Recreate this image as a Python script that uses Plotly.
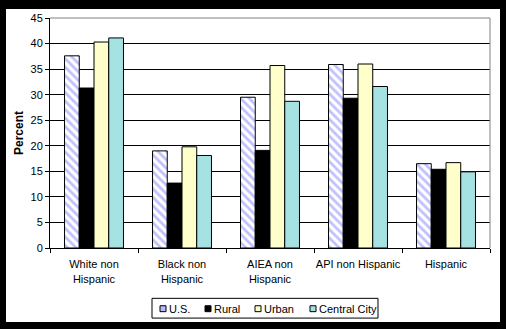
import plotly.graph_objects as go

categories = ["White non<br>Hispanic", "Black non<br>Hispanic", "AIEA non<br>Hispanic",
              "API non Hispanic", "Hispanic"]
us = [37.6, 19.0, 29.5, 35.9, 16.5]
rural = [31.3, 12.7, 19.1, 29.3, 15.4]
urban = [40.3, 19.8, 35.7, 36.0, 16.7]
central_city = [41.1, 18.1, 28.7, 31.6, 14.9]
series_names = ["U.S.", "Rural", "Urban", "Central City"]
y_ticks = [0, 5, 10, 15, 20, 25, 30, 35, 40, 45]

FONT = "Arial, Liberation Sans, sans-serif"
outline = dict(color="black", width=1)
fills = ["#B8B8FF", "black", "#FFFFCC", "#A6E2E2"]

# plot area in pixels: left/right/top/bottom
W, H = 506, 329
PL, PR, PT, PB = 50, 490, 15, 248


def px(x):
    return (x - PL) / (PR - PL)


def py(y):
    return (PB - y) / (PB - PT)


fig = go.Figure()
fig.add_trace(go.Bar(
    name=series_names[0], x=categories, y=us,
    marker=dict(color="white", line=outline,
                pattern=dict(shape="\\", fgcolor="#8080FF", bgcolor="white",
                             size=6, solidity=0.45)),
))
fig.add_trace(go.Bar(name=series_names[1], x=categories, y=rural,
                     marker=dict(color=fills[1], line=outline)))
fig.add_trace(go.Bar(name=series_names[2], x=categories, y=urban,
                     marker=dict(color=fills[2], line=outline)))
fig.add_trace(go.Bar(name=series_names[3], x=categories, y=central_city,
                     marker=dict(color=fills[3], line=outline)))

shapes = [
    # white chart panel inside the black frame
    dict(type="rect", xref="paper", yref="paper", layer="below",
         x0=px(6), x1=px(500), y0=py(323), y1=py(6),
         fillcolor="white", line=dict(width=0)),
    # grey top and right edges of the plot area
    dict(type="path", xref="paper", yref="paper", layer="above",
         path="M 0,1 L 1,1 L 1,0", line=dict(color="#808080", width=1)),
    # legend frame
    dict(type="rect", xref="paper", yref="paper", layer="above",
         x0=px(152), x1=px(378), y0=py(319), y1=py(299),
         fillcolor="white", line=dict(color="black", width=1)),
]
annotations = []
key_x = [160, 205, 255, 310]
for name, fill, kx in zip(series_names, fills, key_x):
    shapes.append(dict(type="rect", xref="paper", yref="paper", layer="above",
                       x0=px(kx), x1=px(kx + 6), y0=py(312.5), y1=py(306.5),
                       fillcolor=fill, line=dict(color="black", width=1)))
    annotations.append(dict(text=name, xref="paper", yref="paper",
                            x=px(kx + 7), y=py(309.5), xanchor="left", yanchor="middle",
                            showarrow=False, font=dict(family=FONT, size=11, color="black")))

fig.update_layout(
    width=W, height=H,
    margin=dict(l=PL, r=W - PR, t=PT, b=H - PB),
    paper_bgcolor="black",
    plot_bgcolor="white",
    barmode="group",
    bargap=0.33,
    bargroupgap=0,
    font=dict(family=FONT, size=11, color="black"),
    showlegend=False,
    xaxis=dict(
        showgrid=False, showline=True, linecolor="black", linewidth=1,
        ticks="outside", tickson="boundaries", ticklen=4, tickcolor="black",
        tickangle=0, ticklabelstandoff=6,
        tickfont=dict(family=FONT, size=11, color="black"),
    ),
    yaxis=dict(
        range=[0, 45], tickvals=y_ticks, showgrid=True, gridcolor="black", gridwidth=1,
        showline=True, linecolor="black", linewidth=1, zeroline=False,
        ticks="outside", ticklen=4, tickcolor="black",
        tickfont=dict(family=FONT, size=11, color="black"),
        title=dict(text="<b>Percent</b>", font=dict(family=FONT, size=12, color="black"),
                   standoff=4),
    ),
    shapes=shapes,
    annotations=annotations,
)

fig.write_html("out.html")
